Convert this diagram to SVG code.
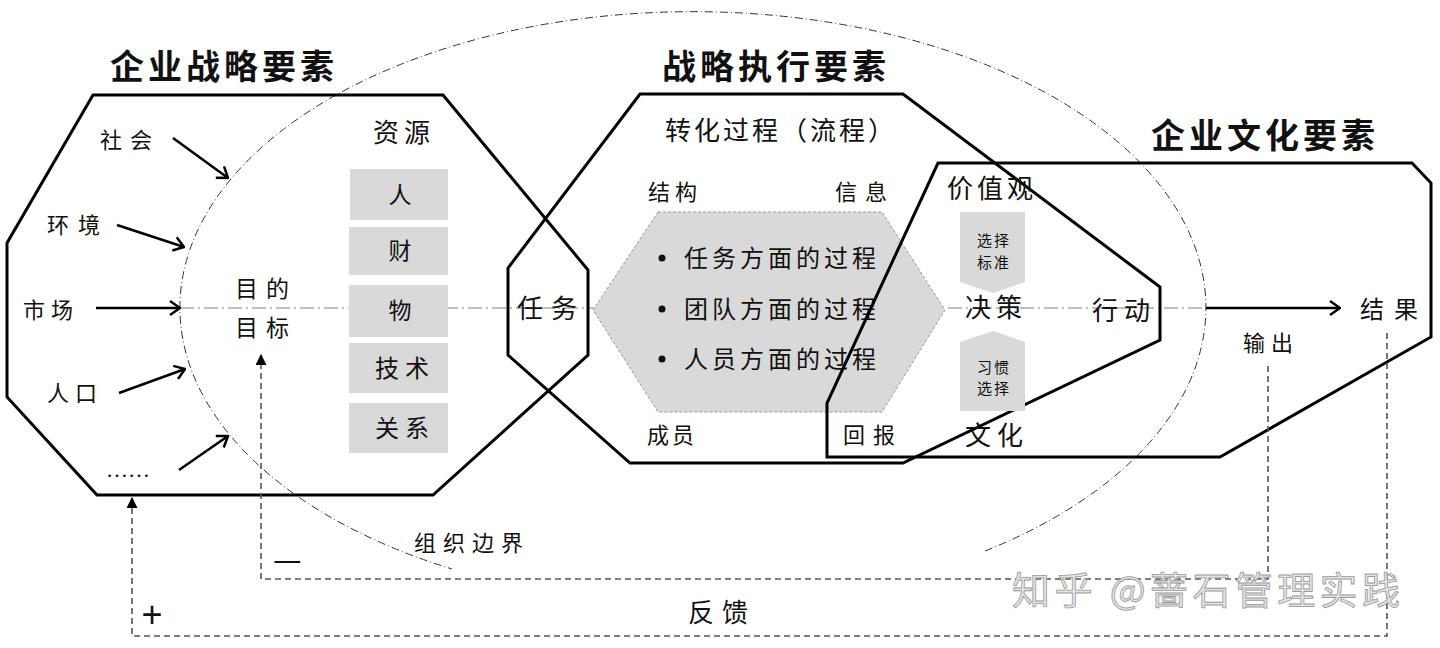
<svg xmlns="http://www.w3.org/2000/svg" width="1440" height="648" viewBox="0 0 1440 648">
<style>
.t{font-family:"Noto Sans CJK SC","Noto Sans",sans-serif;fill:#111}
.title{font-size:34px;font-weight:bold;letter-spacing:4px}
.oct{fill:none;stroke:#000;stroke-width:3;stroke-linejoin:miter}
.box{fill:#d9d9d9}
.arr{stroke:#000;stroke-width:2.5;fill:none;marker-end:url(#chev)}
.fb{fill:none;stroke:#555;stroke-width:1.6;stroke-dasharray:6 4;marker-end:url(#tri)}
</style>
<defs>
<marker id="chev" viewBox="0 0 12 16" refX="11" refY="8" markerWidth="12" markerHeight="16" markerUnits="userSpaceOnUse" orient="auto">
<path d="M1,1 L11,8 L1,15" fill="none" stroke="#000" stroke-width="2.5"/>
</marker>
<marker id="tri" viewBox="0 0 10 10" refX="9" refY="5" markerWidth="11" markerHeight="11" markerUnits="userSpaceOnUse" orient="auto">
<path d="M0,0 L10,5 L0,10 Z" fill="#000"/>
</marker>
</defs>
<rect width="1440" height="648" fill="#fff"/>

<g id="org-boundary">
<path d="M985,551 A513,296 0 1 0 452,569" fill="none" stroke="#333" stroke-width="1" stroke-dasharray="8 3 1 3"/>
<text class="t" x="414" y="551" font-size="22" letter-spacing="7">组织边界</text>
</g>

<g id="axis">
<line x1="180" y1="308" x2="1206" y2="308" stroke="#aaa" stroke-width="1.5" stroke-dasharray="14 4 2 4"/>
</g>

<g id="titles">
<text class="t title" x="110" y="79">企业战略要素</text>
<text class="t title" x="662" y="79">战略执行要素</text>
<text class="t title" x="1151" y="148">企业文化要素</text>
</g>

<g id="process-hexagon">
<path d="M658,212 L882,212 L945,310 L882,412 L658,412 L593,310 Z" fill="#d9d9d9" stroke="#999" stroke-width="1" stroke-dasharray="3 2"/>
<circle cx="662" cy="258" r="3.5" fill="#111"/>
<circle cx="662" cy="309" r="3.5" fill="#111"/>
<circle cx="662" cy="359" r="3.5" fill="#111"/>
<text class="t" x="684" y="267" font-size="24" letter-spacing="4">任务方面的过程</text>
<text class="t" x="684" y="318" font-size="24" letter-spacing="4">团队方面的过程</text>
<text class="t" x="684" y="368" font-size="24" letter-spacing="4">人员方面的过程</text>
</g>

<g id="resources">
<text class="t" x="373" y="142" font-size="26" letter-spacing="5">资源</text>
<rect class="box" x="350" y="169" width="98" height="51"/>
<rect class="box" x="349" y="227" width="99" height="48"/>
<rect class="box" x="349" y="285" width="99" height="52"/>
<rect class="box" x="349" y="343" width="99" height="50"/>
<rect class="box" x="349" y="403" width="99" height="50"/>
<text class="t" x="400" y="203" font-size="23" text-anchor="middle">人</text>
<text class="t" x="400" y="259" font-size="23" text-anchor="middle">财</text>
<text class="t" x="400" y="319" font-size="23" text-anchor="middle">物</text>
<text class="t" x="375" y="377" font-size="24" letter-spacing="6">技术</text>
<text class="t" x="375" y="437" font-size="24" letter-spacing="6">关系</text>
</g>

<g id="strategy-octagon">
<path class="oct" d="M93,95 L443,95 L588,270 L588,355 L433,495 L97,495 L7,397 L7,243 Z"/>
<text class="t" x="100" y="148" font-size="22" letter-spacing="8">社会</text>
<text class="t" x="47" y="233" font-size="22" letter-spacing="9">环境</text>
<text class="t" x="23" y="318" font-size="22" letter-spacing="6">市场</text>
<text class="t" x="47" y="401" font-size="22" letter-spacing="6">人口</text>
<text x="106" y="477" font-size="22" font-family="Liberation Serif, serif" fill="#111">……</text>
<text class="t" x="235" y="297" font-size="23" letter-spacing="8">目的</text>
<text class="t" x="235" y="336" font-size="23" letter-spacing="8">目标</text>
</g>

<g id="execution-octagon">
<path class="oct" d="M640,94 L903,94 L1160,287 L1160,340 L903,463 L630,463 L508,355 L508,268 Z"/>
<text class="t" x="665" y="140" font-size="26" letter-spacing="3">转化过程（流程）</text>
<text class="t" x="648" y="200" font-size="22" letter-spacing="5">结构</text>
<text class="t" x="835" y="200" font-size="22" letter-spacing="8">信息</text>
<text class="t" x="647" y="443" font-size="22" letter-spacing="3">成员</text>
<text class="t" x="843" y="443" font-size="22" letter-spacing="8">回报</text>
<text class="t" x="517" y="318" font-size="26" letter-spacing="8">任务</text>
<text class="t" x="1092" y="320" font-size="26" letter-spacing="6">行动</text>
</g>

<g id="culture-shape">
<path class="oct" d="M938,163 L1412,163 L1431,183 L1431,337 L1220,457 L827,457 L827,403 Z"/>
<text class="t" x="947" y="198" font-size="26" letter-spacing="4">价值观</text>
<path class="box" d="M960,212 L1025,212 L1025,282 L993,293 L960,282 Z"/>
<path class="box" d="M993,331 L1025,342 L1025,411 L960,411 L960,342 Z"/>
<text class="t" x="977" y="246" font-size="15" letter-spacing="2">选择</text>
<text class="t" x="977" y="268" font-size="15" letter-spacing="2">标准</text>
<text class="t" x="977" y="373" font-size="15" letter-spacing="2">习惯</text>
<text class="t" x="977" y="394" font-size="15" letter-spacing="2">选择</text>
<text class="t" x="965" y="317" font-size="26" letter-spacing="5">决策</text>
<text class="t" x="965" y="445" font-size="26" letter-spacing="6">文化</text>
<text class="t" x="1360" y="318" font-size="24" letter-spacing="10">结果</text>
<text class="t" x="1243" y="351" font-size="22" letter-spacing="6">输出</text>
</g>

<g id="connectors">
<line class="arr" x1="173" y1="138" x2="228" y2="178"/>
<line class="arr" x1="117" y1="225" x2="184" y2="247"/>
<line class="arr" x1="96" y1="308" x2="180" y2="308"/>
<line class="arr" x1="119" y1="393" x2="185" y2="369"/>
<line class="arr" x1="179" y1="470" x2="228" y2="436"/>
<line class="arr" x1="1206" y1="308" x2="1340" y2="308"/>
<path class="fb" d="M1268,366 V579 H261 V355"/>
<path class="fb" d="M1387,333 V636 H132 V498"/>
</g>

<g id="feedback-labels">
<text class="t" x="273" y="571" font-size="32">—</text>
<text x="152" y="627" font-size="36" font-family="Liberation Sans, sans-serif" text-anchor="middle" fill="#111">+</text>
<text class="t" x="688" y="622" font-size="26" letter-spacing="8">反馈</text>
</g>

<g id="watermark">
<text x="1012" y="604" font-size="38" font-family="Noto Sans CJK SC, sans-serif" fill="#e4e4e4" stroke="#9a9a9a" stroke-width="0.8" textLength="388" lengthAdjust="spacing">知乎 @蔷石管理实践</text>
</g>
</svg>
